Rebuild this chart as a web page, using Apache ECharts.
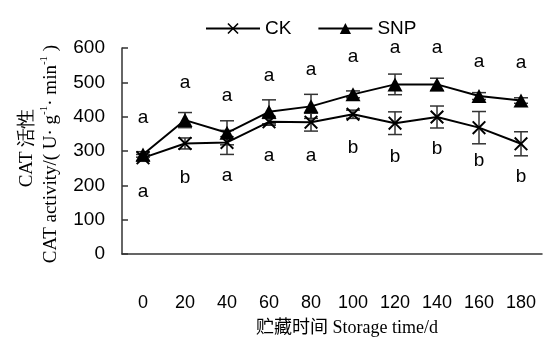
<!DOCTYPE html>
<html><head><meta charset="utf-8">
<script src="https://cdn.jsdelivr.net/npm/echarts@6/dist/echarts.min.js"></script>
<style>html,body{margin:0;padding:0;background:#fff}#c{width:547px;height:338px}</style>
</head><body><div id="c"></div>
<script>
var categories = ['0','20','40','60','80','100','120','140','160','180'];
var ckValues = [280, 322, 325, 385, 384, 407, 381, 399, 368, 321];
var ckErr = [10, 16, 35, 10, 26, 12, 33, 32, 47, 35];
var snpValues = [290, 390, 353, 414, 430, 465, 494, 494, 460, 447];
var snpErr = [8, 22, 35, 35, 35, 10, 30, 18, 10, 8];
var snpLetters = ['a','a','a','a','a','a','a','a','a','a'];
var snpLetterPos = [396, 498, 461, 519, 536, 574, 600, 600, 560, 557];
var ckLetters = ['a','b','a','a','a','b','b','b','b','b'];
var ckLetterPos = [181, 222, 227, 286, 286, 309, 283, 306, 271, 224];
var yTicks = [0, 100, 200, 300, 400, 500, 600];

var xPath = 'path://M1,0 L5,4 L9,0 L10,1 L6,5 L10,9 L9,10 L5,6 L1,10 L0,9 L4,5 L0,1 Z';

function errData(vals, errs){ return vals.map(function(v,i){ return [i, v, errs[i]]; }); }
function letterData(pos, lets){ return pos.map(function(p,i){ return [i, p, lets[i]]; }); }

function renderErr(params, api){
  var x = api.value(0), v = api.value(1), e = api.value(2);
  var top = api.coord([x, v + e]), bot = api.coord([x, v - e]);
  var hw = 7;
  var st = {stroke:'#333', lineWidth:1.5};
  return {type:'group', children:[
    {type:'line', shape:{x1:top[0], y1:top[1], x2:bot[0], y2:bot[1]}, style:st},
    {type:'line', shape:{x1:top[0]-hw, y1:top[1], x2:top[0]+hw, y2:top[1]}, style:st},
    {type:'line', shape:{x1:bot[0]-hw, y1:bot[1], x2:bot[0]+hw, y2:bot[1]}, style:st}
  ]};
}
var letterSets = {snpL: snpLetters, ckL: ckLetters};
function renderLetter(params, api){
  var p = api.coord([api.value(0), api.value(1)]);
  return {type:'text', x:p[0], y:p[1], style:{text: letterSets[params.seriesName][params.dataIndex], fill:'#000', font:'19px "Liberation Sans", Arial, sans-serif', align:'center', verticalAlign:'middle'}};
}

var chart = echarts.init(document.getElementById('c'));
var axisCol = '#333';
var serif = '"Liberation Serif", "Times New Roman", serif';
chart.setOption({
  animation:false,
  backgroundColor:'#fff',
  textStyle:{fontFamily:'"Liberation Sans", Arial, sans-serif'},
  grid:{left:122, right:5, top:48, bottom:84},
  legend:{
    left:200, top:14, itemWidth:54, itemHeight:14, itemGap:26,
    textStyle:{fontSize:19, color:'#000', fontFamily:'"Liberation Sans", Arial, sans-serif'},
    data:['CK','SNP']
  },
  xAxis:{
    type:'category', data:categories, boundaryGap:true,
    axisLine:{lineStyle:{color:axisCol, width:1.5}},
    axisTick:{inside:true, length:6, lineStyle:{color:axisCol, width:1.5}},
    axisLabel:{margin:40, fontSize:18, color:'#000'},
    splitLine:{show:false}
  },
  yAxis:{
    type:'value', min:0, max:600, interval:100,
    axisLine:{show:true, lineStyle:{color:axisCol, width:1.5}},
    axisTick:{show:true, inside:true, length:6, lineStyle:{color:axisCol, width:1.5}},
    axisLabel:{margin:17, fontSize:19, color:'#000'},
    splitLine:{show:false}
  },
  graphic:[
    {type:'text', x:27, y:148, rotation:Math.PI/2,
     style:{text:'CAT 活性', font:'19px ' + serif, fill:'#000', align:'center', verticalAlign:'middle'}},
    {type:'text', x:50, y:154, rotation:Math.PI/2,
     style:{
       text:'{n|CAT activity/( U· g}{s|-1}{n|· min}{s|-1}{n| )}',
       align:'center', verticalAlign:'middle', fill:'#000',
       rich:{
         n:{fontSize:19, fontFamily:serif, fill:'#000', verticalAlign:'bottom', lineHeight:22},
         s:{fontSize:11, fontFamily:serif, fill:'#000', verticalAlign:'top', lineHeight:22}
       }
     }},
    {type:'text', x:347, y:328,
     style:{text:'贮藏时间 Storage time/d', font:'18px "Liberation Serif", "Noto Sans CJK SC", serif', fill:'#000', align:'center', verticalAlign:'middle'}}
  ],
  series:[
    {name:'CK', type:'line', data:ckValues, symbol:xPath, symbolSize:14,
     lineStyle:{color:'#000', width:2}, itemStyle:{color:'#000'}, z:3},
    {name:'SNP', type:'line', data:snpValues, symbol:'triangle', symbolSize:[15,14],
     lineStyle:{color:'#000', width:2}, itemStyle:{color:'#000'}, z:3},
    {name:'ckErr', type:'custom', data:errData(ckValues, ckErr), renderItem:renderErr, z:2},
    {name:'snpErr', type:'custom', data:errData(snpValues, snpErr), renderItem:renderErr, z:2},
    {name:'snpL', type:'custom', data:letterData(snpLetterPos, snpLetters), renderItem:renderLetter, z:4},
    {name:'ckL', type:'custom', data:letterData(ckLetterPos, ckLetters), renderItem:renderLetter, z:4}
  ]
});
</script></body></html>
